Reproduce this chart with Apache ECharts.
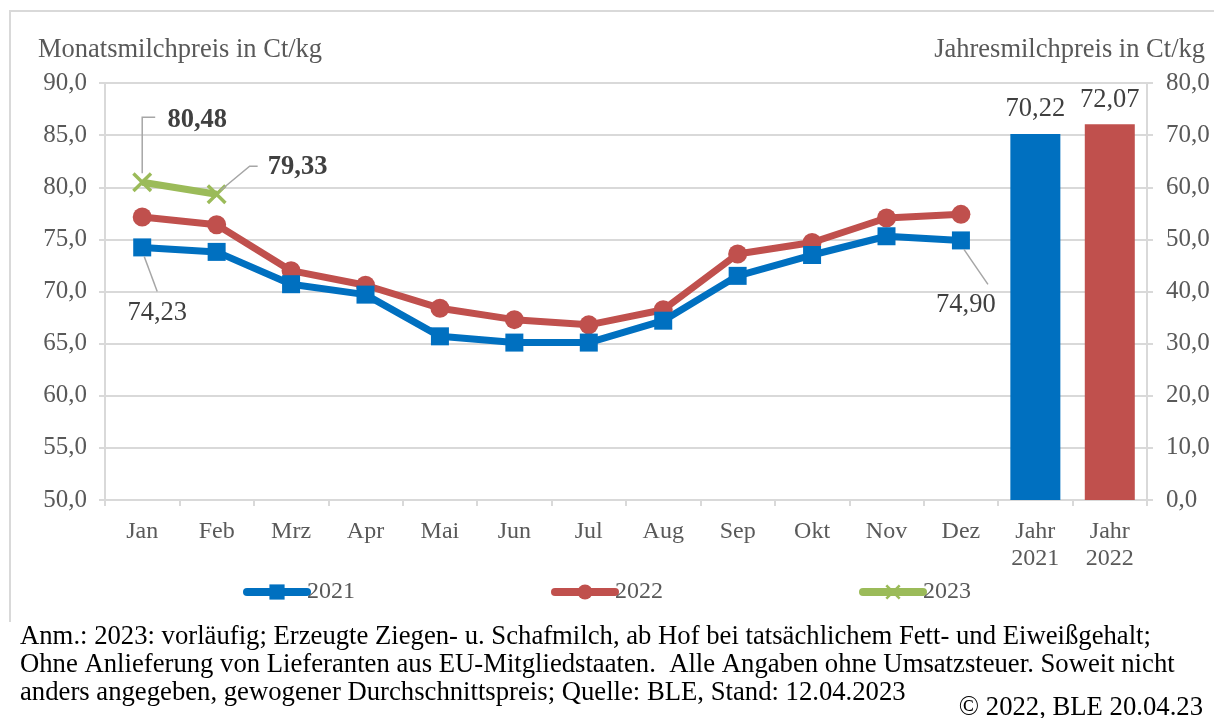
<!DOCTYPE html>
<html>
<head>
<meta charset="utf-8">
<script src="https://cdn.jsdelivr.net/npm/echarts@6/dist/echarts.min.js"></script>
<style>
  html, body { margin: 0; padding: 0; background: #fff; }
  #chart { width: 1214px; height: 718px; }
</style>
</head>
<body>
<div id="chart"></div>
<script>
// data
const months = ['Jan', 'Feb', 'Mrz', 'Apr', 'Mai', 'Jun', 'Jul', 'Aug', 'Sep', 'Okt', 'Nov', 'Dez']
const yearCats = ['Jahr\n2021', 'Jahr\n2022']
const price2021 = [74.23, 73.8, 70.7, 69.7, 65.7, 65.1, 65.1, 67.2, 71.5, 73.5, 75.3, 74.90]
const price2022 = [77.15, 76.4, 72.0, 70.6, 68.4, 67.3, 66.8, 68.25, 73.6, 74.7, 77.05, 77.4]
const price2023 = [80.48, 79.33]
const yearPrice = [70.22, 72.07]
const leftTicks = [50, 55, 60, 65, 70, 75, 80, 85, 90]
const rightTicks = [0, 10, 20, 30, 40, 50, 60, 70, 80]

const BLUE = '#0070C0'
const RED = '#C0504D'
const GREEN = '#9BBB59'
const GRID = '#d9d9d9'
const TXT = '#595959'
const FONT = '"Liberation Serif", "Times New Roman", serif'

const fmt = (v, d) => Number(v).toFixed(d).replace('.', ',')
const xShape = 'path://M0,1.2 L1.2,0 L5,3.8 L8.8,0 L10,1.2 L6.2,5 L10,8.8 L8.8,10 L5,6.2 L1.2,10 L0,8.8 L3.8,5 Z'

const chart = echarts.init(document.getElementById('chart'))

// annotated points: label offset from the marker centre + leader line bends (relative)
// (the last point of a line gets its label nudged right by echarts, hence the smaller dx)
const notes = [
  { series: price2023, idx: 0, bold: true, d: [55, -62], pts: [[0, -9], [0, -65], [13, -65]] },
  { series: price2023, idx: 1, bold: true, d: [81, -27], pts: [[4, -4], [33, -28], [41, -28]] },
  { series: price2021, idx: 0, bold: false, d: [15, 66], pts: [[2, 9], [15, 44]] },
  { series: price2021, idx: 11, bold: false, d: [5, 65], pts: [[3, 9], [27, 44]] }
]

const withLabels = arr => arr.map((v, i) => {
  const n = notes.find(o => o.series === arr && o.idx === i)
  if (!n) return v
  return {
    value: v,
    label: {
      show: true,
      position: 'inside',
      offset: n.d,
      align: 'center',
      verticalAlign: 'middle',
      fontFamily: FONT,
      fontSize: 26.5,
      fontWeight: n.bold ? 'bold' : 'normal',
      color: '#404040',
      formatter: p => fmt(p.value, 2)
    }
  }
})

const barData = months.map(() => null).concat(yearPrice.map((v, i) => ({
  value: v,
  itemStyle: { color: i === 0 ? BLUE : RED }
})))

const legendBase = {
  top: 575,
  itemWidth: 60,
  itemHeight: 19,
  itemGap: 0,
  lineStyle: { width: 8, cap: 'round' },
  textStyle: { fontFamily: FONT, fontSize: 24, color: TXT, padding: [0, 0, 0, -5] }
}

const baseGraphics = [
  {
    id: 'border',
    type: 'polyline',
    shape: { points: [[10, 622], [10, 11], [1214, 11]] },
    style: { stroke: GRID, lineWidth: 2, fill: null },
    silent: true
  },
  {
    id: 'titleL', type: 'text', left: 38, top: 37,
    style: { text: 'Monatsmilchpreis in Ct/kg', font: '26.5px ' + FONT, fill: TXT }
  },
  {
    id: 'titleR', type: 'text', right: 9, top: 37,
    style: { text: 'Jahresmilchpreis in Ct/kg', font: '26.5px ' + FONT, fill: TXT }
  },
  {
    id: 'note', type: 'text', left: 20, top: 623,
    style: {
      text: 'Anm.: 2023: vorläufig; Erzeugte Ziegen- u. Schafmilch, ab Hof bei tatsächlichem Fett- und Eiweißgehalt;\n' +
            'Ohne Anlieferung von Lieferanten aus EU-Mitgliedstaaten.  Alle Angaben ohne Umsatzsteuer. Soweit nicht\n' +
            'anders angegeben, gewogener Durchschnittspreis; Quelle: BLE, Stand: 12.04.2023',
      font: '26.7px ' + FONT, fill: '#000', lineHeight: 28
    }
  },
  {
    id: 'copy', type: 'text', right: 11, top: 694,
    style: { text: '© 2022, BLE 20.04.23', font: '26.7px ' + FONT, fill: '#000' }
  }
]

const option = {
  animation: false,
  textStyle: { fontFamily: FONT },
  grid: { left: 105, right: 67, top: 83, bottom: 218, containLabel: false },
  legend: [
    Object.assign({ left: 238, data: ['2021'] }, legendBase),
    Object.assign({ left: 546, data: ['2022'] }, legendBase),
    Object.assign({ left: 854, data: ['2023'] }, legendBase)
  ],
  xAxis: {
    type: 'category',
    data: months.concat(yearCats),
    boundaryGap: true,
    axisLine: { lineStyle: { color: GRID, width: 2 } },
    axisTick: { show: true, length: 6, lineStyle: { color: GRID, width: 2 } },
    axisLabel: { fontFamily: FONT, fontSize: 24, color: TXT, margin: 18, lineHeight: 27 }
  },
  yAxis: [
    {
      type: 'value',
      min: leftTicks[0],
      max: leftTicks[leftTicks.length - 1],
      interval: 5,
      position: 'left',
      axisLine: { show: true, lineStyle: { color: GRID, width: 2 } },
      axisTick: { show: true, length: 6, lineStyle: { color: GRID, width: 2 } },
      splitLine: { lineStyle: { color: GRID, width: 2 } },
      axisLabel: { fontFamily: FONT, fontSize: 25, color: TXT, margin: 18, formatter: v => fmt(v, 1) }
    },
    {
      type: 'value',
      min: rightTicks[0],
      max: rightTicks[rightTicks.length - 1],
      interval: 10,
      position: 'right',
      axisLine: { show: true, lineStyle: { color: GRID, width: 2 } },
      axisTick: { show: true, length: 6, lineStyle: { color: GRID, width: 2 } },
      splitLine: { show: false },
      axisLabel: { fontFamily: FONT, fontSize: 25, color: TXT, margin: 19, formatter: v => fmt(v, 1) }
    }
  ],
  series: [
    {
      name: 'Jahr',
      type: 'bar',
      yAxisIndex: 1,
      barWidth: 50,
      data: barData,
      label: {
        show: true,
        position: 'top',
        distance: 11,
        fontFamily: FONT,
        fontSize: 26.5,
        color: '#404040',
        formatter: p => fmt(p.value, 2)
      }
    },
    {
      name: '2022',
      type: 'line',
      data: price2022,
      symbol: 'circle',
      symbolSize: 19,
      color: RED,
      lineStyle: { color: RED, width: 7 },
      itemStyle: { color: RED }
    },
    {
      name: '2021',
      type: 'line',
      data: withLabels(price2021),
      symbol: 'rect',
      symbolSize: 18,
      color: BLUE,
      lineStyle: { color: BLUE, width: 7 },
      itemStyle: { color: BLUE }
    },
    {
      name: '2023',
      type: 'line',
      data: withLabels(price2023),
      symbol: xShape,
      symbolSize: 20,
      color: GREEN,
      lineStyle: { color: GREEN, width: 7 },
      itemStyle: { color: GREEN }
    }
  ],
  graphic: baseGraphics
}

chart.setOption(option)

// leader lines, placed through the value axes
const leaders = notes.map((n, k) => {
  const c = chart.convertToPixel({ xAxisIndex: 0, yAxisIndex: 0 }, [n.idx, n.series[n.idx]])
  return {
    id: 'leader' + k,
    type: 'polyline',
    z: 10,
    silent: true,
    shape: { points: n.pts.map(p => [c[0] + p[0], c[1] + p[1]]) },
    style: { stroke: '#a6a6a6', lineWidth: 1.5, fill: null }
  }
})
chart.setOption({ graphic: baseGraphics.concat(leaders) })
</script>
</body>
</html>
